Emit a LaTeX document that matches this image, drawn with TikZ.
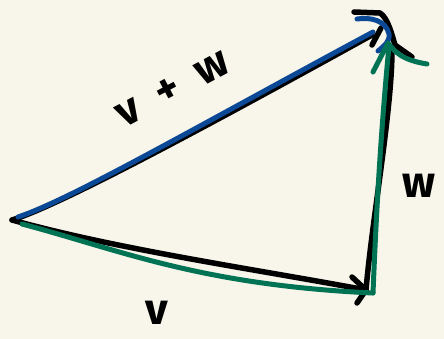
\documentclass[tikz,border=0pt]{standalone}
\usepackage{fontspec}
\setmainfont{Fira Sans}
\definecolor{paper}{RGB}{248,246,234}
\definecolor{inkblue}{RGB}{11,72,150}
\definecolor{inkgreen}{RGB}{0,115,85}
\tikzset{
  pen/.style={line width=5.5pt, line cap=round, line join=round},
  blackpen/.style={pen, black},
  bluepen/.style={pen, inkblue, line width=5pt},
  greenpen/.style={pen, inkgreen, line width=5pt},
  lbl/.style={font=\bfseries\fontsize{44}{44}\selectfont, inner sep=0pt}
}
\begin{document}
\begin{tikzpicture}[x=1pt,y=-1pt]
\fill[paper] (0,0) rectangle (444,339);
\useasboundingbox (0,0) rectangle (444,339);
% vertices
\coordinate (A) at (12,220);
\coordinate (B) at (366,290);
\coordinate (C) at (388,28);
% black sketch
\draw[blackpen] (A) .. controls (60,205) and (200,130) .. (372,35);
\draw[blackpen] (A) .. controls (120,250) and (260,270) .. (B);
\draw[blackpen] (352,277) -- (B) -- (357,303);
\draw[blackpen] (B) .. controls (372,220) and (392,110) .. (392,50);
\draw[blackpen] (354,12) -- (380,13) .. controls (388,18) and (392,35) .. (395,45) -- (412,57);
\draw[blackpen] (372,45) -- (381,28);
% blue: v + w
\draw[bluepen] (18,217) .. controls (70,200) and (200,125) .. (373,32);
\draw[bluepen] (357,19) .. controls (370,17) and (386,20) .. (389,34) .. controls (390,42) and (384,46) .. (378,51);
% green: v and w
\draw[greenpen] (22,224) .. controls (120,250) and (200,285) .. (373,293);
\draw[greenpen] (373,293) .. controls (376,220) and (380,140) .. (389,46);
\draw[greenpen] (373,72) -- (388,43) .. controls (395,52) and (402,60) .. (427,64);
% labels
\node[lbl] (lv) at (157,313) {v};
\node[lbl] (lw) at (419,186) {w};
\node[lbl, rotate=28] (lvw) at (173,89) {v\hspace{0.5em}+\hspace{0.5em}w};
\end{tikzpicture}
\end{document}
